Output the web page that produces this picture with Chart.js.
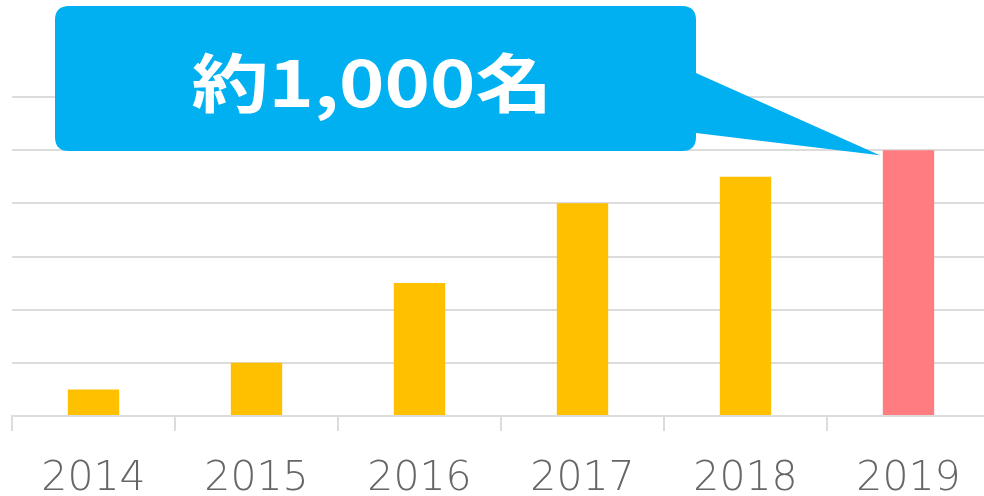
<!DOCTYPE html>
<html>
<head>
<meta charset="utf-8">
<script src="https://cdn.jsdelivr.net/npm/chart.js@4/dist/chart.umd.min.js"></script>
<style>
  html, body { margin: 0; padding: 0; background: #fff; overflow: hidden; }
  #wrap { width: 990px; height: 496px; }
</style>
</head>
<body>
<div id="wrap"><canvas id="chart" width="990" height="496"></canvas></div>
<script>
// Data
const years = ['2014', '2015', '2016', '2017', '2018', '2019'];
const members = [100, 200, 500, 800, 900, 1000];
const barColors = ['#FFC000', '#FFC000', '#FFC000', '#FFC000', '#FFC000', '#FF7C80'];
const calloutText = '約1,000名';

// Speech-bubble callout pointing at the last bar
const calloutPlugin = {
  id: 'callout',
  afterDraw(chart) {
    const ctx = chart.ctx;
    const meta = chart.getDatasetMeta(0);
    const bar = meta.data[meta.data.length - 1];
    const tipX = bar.x - bar.width / 2 - 3;
    const tipY = bar.y + 5;

    const left = 55, top = 6, right = 696, bottom = 151, r = 14;

    ctx.save();
    ctx.fillStyle = '#00B0F0';
    ctx.beginPath();
    ctx.moveTo(left + r, top);
    ctx.lineTo(right - r, top);
    ctx.quadraticCurveTo(right, top, right, top + r);
    ctx.lineTo(right, 73);
    ctx.lineTo(tipX, tipY);
    ctx.lineTo(right, 133);
    ctx.lineTo(right, bottom - r);
    ctx.quadraticCurveTo(right, bottom, right - r, bottom);
    ctx.lineTo(left + r, bottom);
    ctx.quadraticCurveTo(left, bottom, left, bottom - r);
    ctx.lineTo(left, top + r);
    ctx.quadraticCurveTo(left, top, left + r, top);
    ctx.closePath();
    ctx.fill();

    // label, stretched a bit to match the wide digits
    ctx.font = 'bold 64px "Noto Sans CJK JP"';
    ctx.fillStyle = '#fff';
    ctx.textAlign = 'center';
    ctx.textBaseline = 'middle';
    const w = ctx.measureText(calloutText).width;
    const sx = 361 / w;
    ctx.translate(372, 83);
    ctx.scale(sx, 1);
    ctx.fillText(calloutText, 0, 0);
    ctx.restore();
  }
};

new Chart(document.getElementById('chart'), {
  type: 'bar',
  data: {
    labels: years,
    datasets: [{
      data: members,
      backgroundColor: barColors,
      barPercentage: 0.63,
      categoryPercentage: 0.5
    }]
  },
  options: {
    responsive: false,
    animation: false,
    layout: { padding: { left: 12, top: 97, right: 0, bottom: 0 } },
    plugins: { legend: { display: false }, tooltip: { enabled: false } },
    scales: {
      x: {
        grid: {
          offset: true,
          drawOnChartArea: false,
          drawTicks: true,
          tickLength: 15,
          color: '#dcdcdc',
          lineWidth: 2
        },
        border: { color: '#dcdcdc', width: 2 },
        ticks: {
          color: '#666',
          padding: 24,
          font: { family: '"DejaVu Sans"', size: 41, weight: 200 }
        },
        afterFit(scale) { scale.height = 80; }
      },
      y: {
        min: 0,
        max: 1200,
        ticks: { display: false, stepSize: 200 },
        grid: { drawTicks: false, color: '#dcdcdc', lineWidth: 2 },
        border: { display: false },
        afterFit(scale) { scale.width = 0; }
      }
    }
  },
  plugins: [calloutPlugin]
});
</script>
</body>
</html>
